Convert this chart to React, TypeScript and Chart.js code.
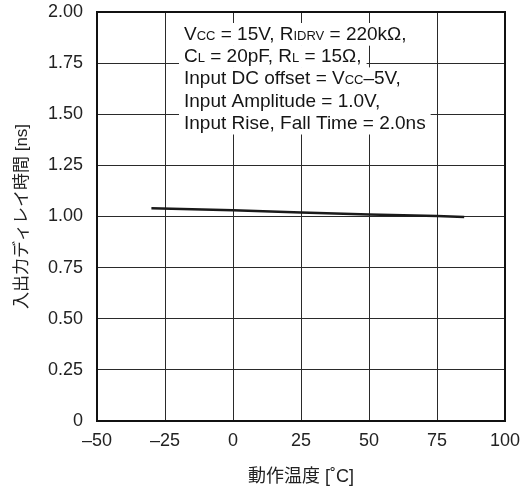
import { useEffect, useRef } from 'react';
import { Chart, registerables } from 'chart.js';

Chart.register(...registerables);

// Propagation delay vs. operating temperature
const temperatures = [-30, 0, 25, 50, 75, 85];
const delayNs = [1.04, 1.03, 1.02, 1.01, 1.003, 0.997];

const xTicks = [-50, -25, 0, 25, 50, 75, 100];
const yTicks = [0, 0.25, 0.5, 0.75, 1, 1.25, 1.5, 1.75, 2];

const xTitle = '動作温度 [˚C]';
const yTitle = '入出力ディレイ時間 [ns]';

// Test conditions; each segment is [text, drawn as small subscript-style caps]
const conditionLines: [string, boolean][][] = [
  [['V', false], ['CC', true], [' = 15V, R', false], ['IDRV', true], [' = 220kΩ,', false]],
  [['C', false], ['L', true], [' = 20pF, R', false], ['L', true], [' = 15Ω,', false]],
  [['Input DC offset = V', false], ['CC', true], ['–5V,', false]],
  [['Input Amplitude = 1.0V,', false]],
  [['Input Rise, Fall Time = 2.0ns', false]],
];

const SANS = '"Liberation Sans", Arial, "Noto Sans CJK JP", sans-serif';
const JP = '"Liberation Sans", "Noto Sans CJK JP", sans-serif';

const conditionsPlugin = {
  id: 'conditions',
  beforeDatasetsDraw(chart: any) {
    const { ctx, chartArea, scales } = chart;
    const x0 = scales.x.getPixelForValue(-25) + 19;
    const big = `19px ${SANS}`;
    const small = `13px ${SANS}`;
    const step = 22.2;
    ctx.save();
    ctx.textBaseline = 'alphabetic';
    ctx.textAlign = 'left';
    conditionLines.forEach((segs, i) => {
      const baseline = chartArea.top + 28 + i * step;
      let w = 0;
      segs.forEach(([t, s]) => {
        ctx.font = s ? small : big;
        w += ctx.measureText(t).width;
      });
      ctx.fillStyle = '#ffffff';
      ctx.fillRect(x0 - 5, baseline - 17, w + 10, step + 0.5);
    });
    conditionLines.forEach((segs, i) => {
      const baseline = chartArea.top + 28 + i * step;
      let x = x0;
      segs.forEach(([t, s]) => {
        ctx.font = s ? small : big;
        ctx.fillStyle = '#151515';
        ctx.fillText(t, x, baseline);
        x += ctx.measureText(t).width;
      });
    });
    ctx.restore();
  },
  afterDraw(chart: any) {
    const { ctx, chartArea } = chart;
    ctx.save();
    ctx.strokeStyle = '#111111';
    ctx.lineWidth = 2;
    ctx.strokeRect(
      chartArea.left,
      chartArea.top,
      chartArea.right - chartArea.left,
      chartArea.bottom - chartArea.top
    );
    ctx.restore();
  },
};

export default function App() {
  const canvasRef = useRef<HTMLCanvasElement | null>(null);

  useEffect(() => {
    const canvas = canvasRef.current;
    if (!canvas) return;
    const chart = new Chart(canvas, {
      type: 'line',
      data: {
        datasets: [
          {
            data: temperatures.map((t, i) => ({ x: t, y: delayNs[i] })),
            borderColor: '#1a1a1a',
            borderWidth: 2.5,
            pointRadius: 0,
            tension: 0,
            fill: false,
          },
        ],
      },
      options: {
        animation: false,
        responsive: false,
        devicePixelRatio: 1,
        layout: { padding: { top: 12, right: 24, left: 0, bottom: 0 } },
        plugins: {
          legend: { display: false },
          tooltip: { enabled: false },
        },
        scales: {
          x: {
            type: 'linear',
            min: -50,
            max: 100,
            afterBuildTicks: (scale: any) => {
              scale.ticks = xTicks.map((v) => ({ value: v }));
            },
            afterFit: (scale: any) => {
              scale.height = 71;
              scale.paddingLeft = 0;
              scale.paddingRight = 0;
            },
            grid: { color: '#2a2a2a', lineWidth: 1, drawTicks: false },
            border: { display: false },
            ticks: {
              padding: 9,
              color: '#222222',
              font: { family: SANS, size: 18 },
              callback: (v: any) => String(v).replace('-', '–'),
            },
            title: {
              display: true,
              text: xTitle,
              color: '#222222',
              font: { family: JP, size: 18 },
              padding: { top: 0, bottom: 4 },
            },
          },
          y: {
            type: 'linear',
            min: 0,
            max: 2,
            afterBuildTicks: (scale: any) => {
              scale.ticks = yTicks.map((v) => ({ value: v }));
            },
            afterFit: (scale: any) => {
              scale.width = 97;
              scale.paddingTop = 0;
              scale.paddingBottom = 0;
            },
            grid: { color: '#2a2a2a', lineWidth: 1, drawTicks: false },
            border: { display: false },
            ticks: {
              padding: 14,
              color: '#222222',
              font: { family: SANS, size: 18 },
              callback: (v: any) => (v === 0 ? '0' : Number(v).toFixed(2)),
            },
            title: {
              display: true,
              text: yTitle,
              color: '#222222',
              font: { family: JP, size: 17 },
              padding: { top: 12, bottom: 0 },
            },
          },
        },
      },
      plugins: [conditionsPlugin],
    });
    return () => chart.destroy();
  }, []);

  return (
    <div style={{ position: 'fixed', left: 0, top: 0, width: 529, height: 492, background: '#fff' }}>
      <canvas ref={canvasRef} width={529} height={492} />
    </div>
  );
}
